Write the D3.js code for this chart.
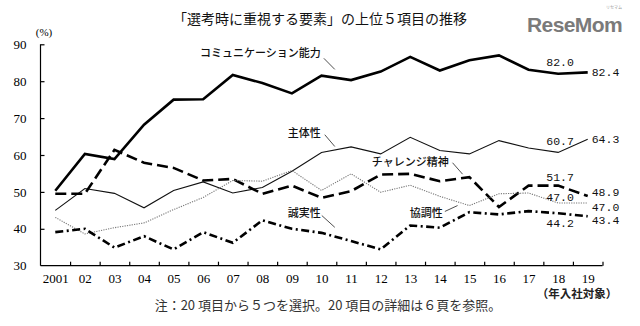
<!DOCTYPE html>
<html><head><meta charset="utf-8">
<script src="https://cdn.jsdelivr.net/npm/d3@7"></script>
<style>
html,body{margin:0;padding:0;background:#fff;}
svg{display:block;}
</style></head>
<body>
<svg id="chart" width="640" height="326"></svg>
<script>
// ---- data ----
const years = ["2001","02","03","04","05","06","07","08","09","10","11","12","13","14","15","16","17","18","19"];
const yTicks = [30,40,50,60,70,80,90];
const communication = [50.3,60.3,58.9,68.2,75.0,75.1,81.7,79.5,76.7,81.5,80.3,82.6,86.6,82.9,85.7,87.0,83.1,82.0,82.4];
const initiative    = [45.0,50.9,49.6,45.7,50.4,52.7,49.7,51.2,55.6,60.7,62.2,60.3,64.8,61.2,60.3,63.9,61.9,60.7,64.3];
const challenge     = [49.5,49.5,61.4,57.9,56.5,53.1,53.5,49.5,51.7,48.4,50.2,54.7,54.9,52.9,54.0,45.9,51.7,51.7,48.9];
const cooperation   = [43.1,38.6,40.3,41.6,45.2,48.5,53.1,52.9,55.8,50.4,54.9,49.9,51.8,48.8,46.3,49.5,49.7,47.0,47.0];
const integrity     = [39.1,40.0,34.9,38.0,34.4,39.1,36.2,42.3,40.0,38.9,36.7,34.4,40.9,40.3,44.5,43.9,44.8,44.2,43.4];
const seriesNames = ["コミュニケーション能力","主体性","チャレンジ精神","協調性","誠実性"];
const seriesValues = [communication, initiative, challenge, cooperation, integrity];
const title = "「選考時に重視する要素」の上位５項目の推移";
const note = "注：20 項目から５つを選択。20 項目の詳細は６頁を参照。";
const unitLabel = "(%)";
const xUnitLabel = "（年入社対象）";

(function(){
const styles = [
  {w:2.6, dash:null, color:"#000"},
  {w:1.1, dash:null, color:"#111"},
  {w:2.6, dash:"11,5", color:"#000"},
  {w:1.1, dash:"1.2,1.2", color:"#777"},
  {w:2.6, dash:"8,3.5,2,3.5", color:"#000"}
];
const nameAnno = [
  {tx:4.89, ty:87.6, x1:9.08, y1:86.2, x2:9.45, y2:83.2},
  {tx:7.86, ty:66.0, x1:9.11, y1:65.5, x2:9.45, y2:62.3},
  {tx:10.7, ty:58.2, x1:13.43,y1:57.9, x2:13.77,y2:54.8},
  {tx:11.98,ty:44.4, x1:13.17,y1:44.7, x2:13.6, y2:46.3},
  {tx:7.86, ty:44.4, x1:9.01, y1:43.6, x2:9.45, y2:40.4}
];
const off18 = [-12,-11,-9,-6,10];
const off19 = [0,0,-4,4,4];

const svg = d3.select("#chart");
const pl = 40.5, pr = 602.5, pt = 44.3, pb = 265.7;
const x = d3.scaleLinear().domain([-0.5, years.length-0.5]).range([pl, pr]);
const y = d3.scaleLinear().domain([30, 90]).range([pb, pt]);

svg.append("text").attr("x",320).attr("y",24).attr("text-anchor","middle")
  .attr("font-family","Noto Sans CJK JP").attr("font-size",14).attr("fill","#111").text(title);

const logo = svg.append("g");
logo.append("text").attr("x",527).attr("y",32).attr("font-family","Liberation Sans")
  .attr("font-weight","bold").attr("font-size",21).attr("letter-spacing",-0.6)
  .attr("fill","#7a7a7a").text("ReseMom");
logo.append("text").attr("x",606).attr("y",9).attr("font-family","Noto Sans CJK JP")
  .attr("font-size",4).attr("fill","#999").text("リセマム");

const axisFont = "Liberation Sans Narrow";
const yAxis = d3.axisLeft(y).tickValues(yTicks).tickSize(-4).tickPadding(14).tickFormat(d3.format("d"));
const gy = svg.append("g").attr("transform",`translate(${pl},0)`).call(yAxis);
gy.select(".domain").attr("d",`M0,${pt}V${pb}`).attr("stroke","#000").attr("stroke-width",1.2);
gy.selectAll(".tick line").attr("stroke","#000").attr("stroke-width",1.2);
gy.selectAll("text").attr("font-family",axisFont).attr("font-size",13).attr("fill","#000");
gy.selectAll(".tick").filter(d=>d===30).select("line").remove();

const xTickPos = d3.range(0.5, years.length, 1);
const gxt = svg.append("g").attr("transform",`translate(0,${pb})`)
  .call(d3.axisBottom(x).tickValues(xTickPos).tickSize(-4).tickFormat(""));
gxt.select(".domain").attr("d",`M${pl},0H${pr}`).attr("stroke","#000").attr("stroke-width",1.2);
gxt.selectAll(".tick line").attr("stroke","#000").attr("stroke-width",1.2);
const gxl = svg.append("g").attr("transform",`translate(0,${pb})`)
  .call(d3.axisBottom(x).tickValues(d3.range(years.length)).tickSize(0).tickPadding(8).tickFormat(i=>years[i]));
gxl.select(".domain").remove();
gxl.selectAll("text").attr("font-family",axisFont).attr("font-size",13).attr("fill","#000");

svg.append("text").attr("x",44).attr("y",36).attr("text-anchor","middle")
  .attr("font-family",axisFont).attr("font-size",11).text(unitLabel);
svg.append("text").attr("x",577).attr("y",298).attr("text-anchor","middle")
  .attr("font-family","Noto Sans CJK JP").attr("font-weight","bold").attr("font-size",11.5).attr("fill","#222").text(xUnitLabel);

const line = d3.line().x((d,i)=>x(i)).y(d=>y(d));
seriesValues.forEach((vals,k)=>{
  svg.append("path").datum(vals).attr("d",line).attr("fill","none")
    .attr("stroke",styles[k].color).attr("stroke-width",styles[k].w)
    .attr("stroke-dasharray",styles[k].dash).attr("stroke-linejoin","miter");
});

nameAnno.forEach((a,k)=>{
  svg.append("text").attr("x",x(a.tx)).attr("y",y(a.ty)+4).attr("font-family","Noto Sans CJK JP")
    .attr("font-weight",500).attr("font-size",11).attr("fill","#111").text(seriesNames[k]);
  svg.append("line").attr("x1",x(a.x1)).attr("y1",y(a.y1)).attr("x2",x(a.x2)).attr("y2",y(a.y2))
    .attr("stroke","#222").attr("stroke-width",0.8);
});

const n = years.length;
const valFont = "Liberation Mono";
seriesValues.forEach((vals,k)=>{
  svg.append("text").attr("x",x(n-2)+2).attr("y",y(vals[n-2])+off18[k]+4).attr("text-anchor","middle")
    .attr("font-family",valFont).attr("font-size",11.5).attr("fill","#111").text(vals[n-2].toFixed(1));
  svg.append("text").attr("x",x(n-1)+4).attr("y",y(vals[n-1])+off19[k]+4)
    .attr("font-family",valFont).attr("font-size",11.5).attr("fill","#111").text(vals[n-1].toFixed(1));
});

svg.append("text").attr("x",328).attr("y",310).attr("text-anchor","middle")
  .attr("font-family","Noto Sans CJK JP").attr("font-size",13).attr("fill","#333").text(note);
})();
</script>
</body></html>
